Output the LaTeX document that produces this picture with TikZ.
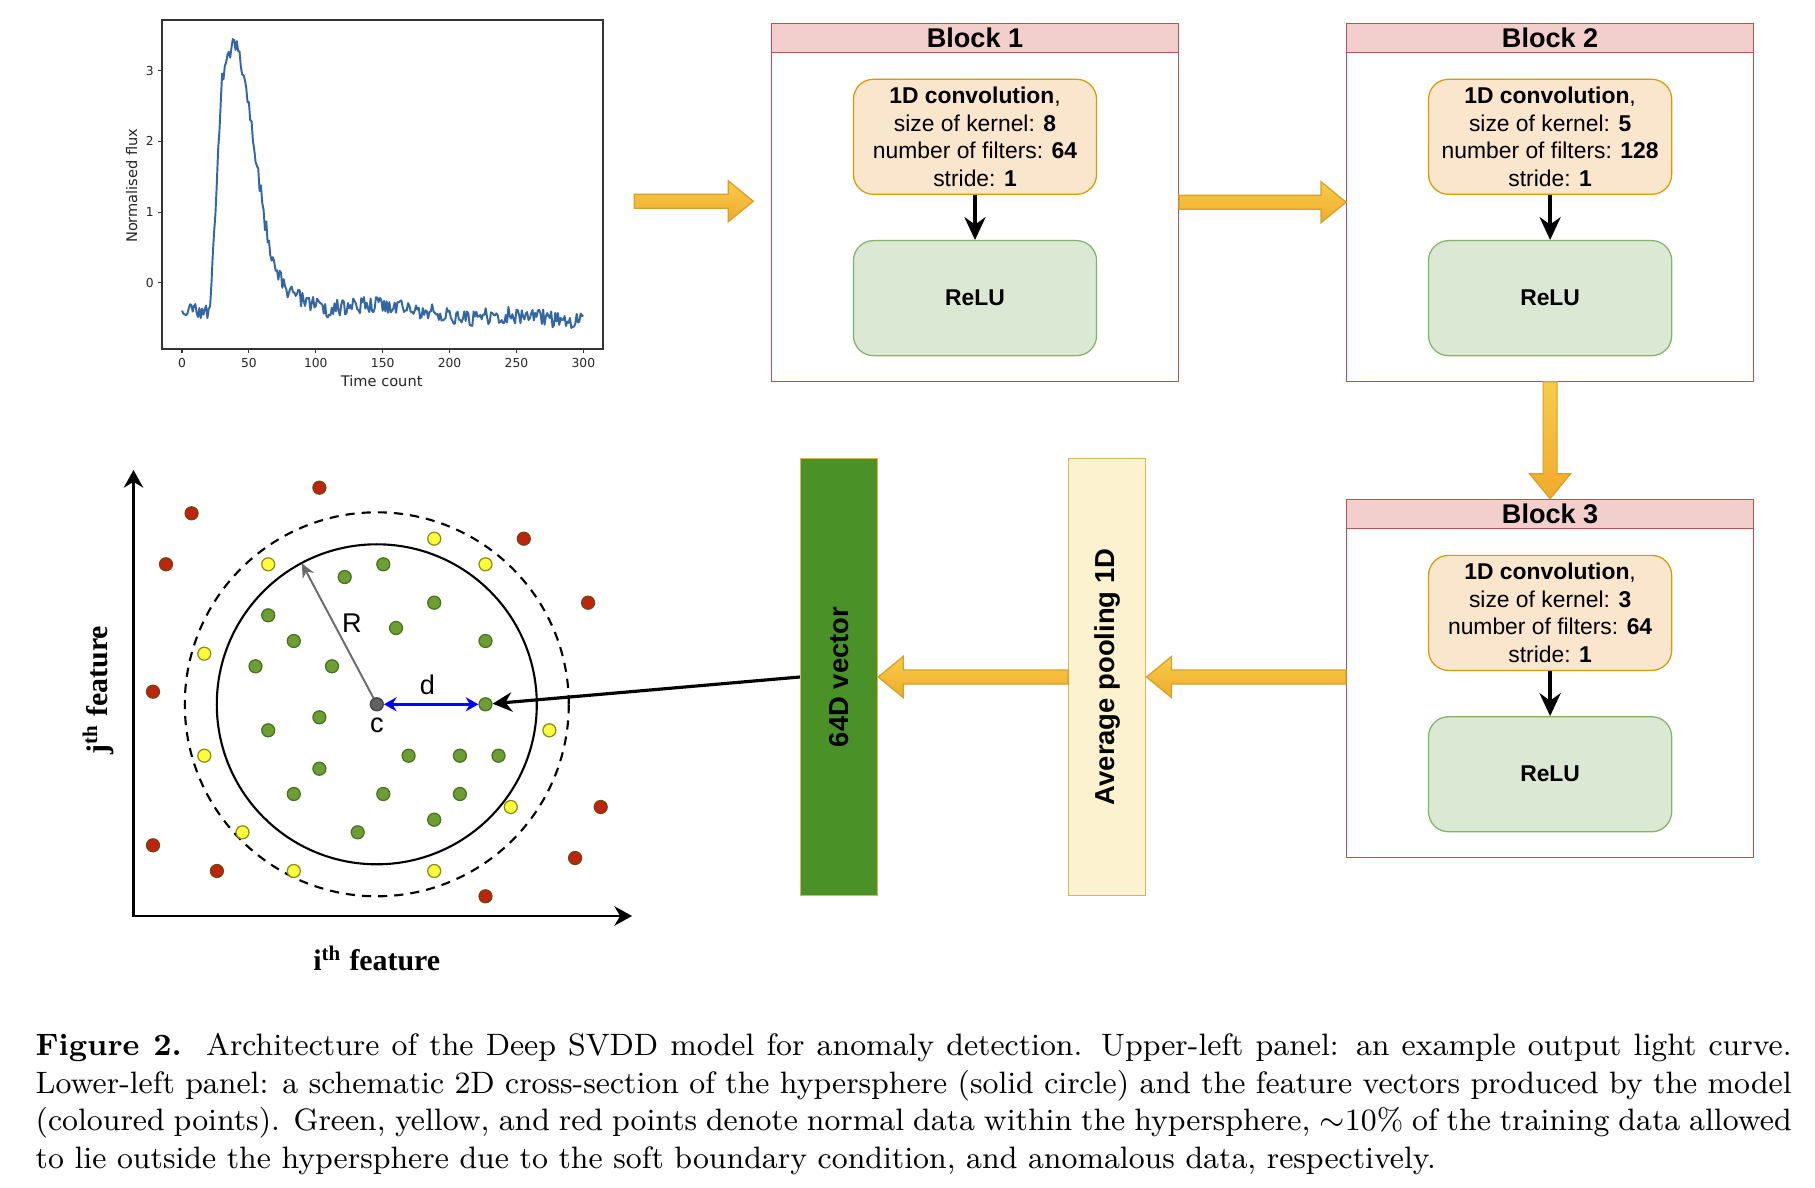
\documentclass[tikz,border=0pt]{standalone}
\usepackage{fontspec}
\usepackage{graphicx}
\newfontfamily\arialf{Liberation Sans}
\newfontfamily\dejavuf{DejaVu Sans}
\newfontfamily\timesf{Liberation Serif}
\usetikzlibrary{positioning,calc,arrows.meta}

\definecolor{headfill}{RGB}{242,206,204}
\definecolor{blkline}{RGB}{184,84,80}
\definecolor{convfill}{RGB}{250,229,205}
\definecolor{convline}{RGB}{215,155,0}
\definecolor{relufill}{RGB}{218,232,212}
\definecolor{reluline}{RGB}{130,179,102}
\definecolor{vecfill}{RGB}{74,146,40}
\definecolor{vecline}{RGB}{214,182,86}
\definecolor{avgfill}{RGB}{253,242,207}
\definecolor{arrowtop}{RGB}{248,204,72}
\definecolor{arrowbot}{RGB}{240,170,46}
\definecolor{arrowline}{RGB}{214,160,40}
\definecolor{lcblue}{RGB}{52,101,164}
\definecolor{gfill}{RGB}{108,158,52}
\definecolor{gline}{RGB}{72,112,30}
\definecolor{yfill}{RGB}{252,252,60}
\definecolor{yline}{RGB}{140,140,20}
\definecolor{rfill}{RGB}{190,36,14}
\definecolor{rline}{RGB}{110,70,20}

\tikzset{blk/.style = {draw=blkline, line width=0.35pt, minimum width=4.066cm, minimum height=3.577cm, inner sep=0}}
\tikzset{blkhead/.style = {draw=blkline, fill=headfill, line width=0.35pt, minimum width=4.066cm, minimum height=0.294cm, inner sep=0, font=\arialf\bfseries\fontsize{7.7}{8}\selectfont}}
\tikzset{conv/.style = {draw=convline, fill=convfill, line width=0.35pt, rounded corners=0.2cm, minimum width=2.43cm, minimum height=1.15cm, inner sep=0, align=center, font=\arialf\fontsize{6.5}{7.8}\selectfont}}
\tikzset{relu/.style = {draw=reluline, fill=relufill, line width=0.35pt, rounded corners=0.2cm, minimum width=2.43cm, minimum height=1.15cm, inner sep=0, font=\arialf\bfseries\fontsize{6.5}{7.8}\selectfont}}
\tikzset{flow/.style = {line width=1pt, -{Stealth[length=6.5pt,width=6pt]}}}
\tikzset{fatbody/.style = {draw=arrowline, line width=0.35pt, top color=arrowtop, bottom color=arrowbot}}
\tikzset{tallbox/.style = {draw=vecline, line width=0.35pt, minimum width=0.77cm, minimum height=4.374cm, inner sep=0, font=\arialf\bfseries\fontsize{7.8}{8}\selectfont}}
\tikzset{gdot/.style = {draw=gline, fill=gfill, line width=0.35pt}}
\tikzset{ydot/.style = {draw=yline, fill=yfill, line width=0.35pt}}
\tikzset{rdot/.style = {draw=rline, fill=rfill, line width=0.35pt}}
\tikzset{ptlbl/.style = {inner sep=0, font=\arialf\fontsize{7.7}{8}\selectfont}}
\tikzset{axlbl/.style = {inner sep=0, font=\timesf\bfseries\fontsize{8.5}{9}\selectfont}}
\tikzset{ticklbl/.style = {inner sep=0, font=\dejavuf\fontsize{3.5}{4}\selectfont, text=black!85}}
\tikzset{plotlbl/.style = {inner sep=0, font=\dejavuf\fontsize{4.15}{5}\selectfont, text=black!85}}

% block arrow between two points
\newcommand{\fatarrow}[2]{%
  \coordinate (fh) at ($(#2)!0.25cm!(#1)$);
  \draw[fatbody] ($(#1)!0.07cm!90:(#2)$) -- ($(fh)!0.07cm!90:(#2)$) -- ($(fh)!0.205cm!90:(#2)$)
    -- (#2) -- ($(fh)!0.205cm!-90:(#2)$) -- ($(fh)!0.07cm!-90:(#2)$) -- ($(#1)!0.07cm!-90:(#2)$) -- cycle;}

\begin{document}
\begin{tikzpicture}[x=0.01cm, y=-0.01cm,
    declare function={ramp(\t,\a)=max(\t-\a,0);
      lc(\t)=-0.4+0.3667*ramp(\t,21)-0.3056*ramp(\t,30)-0.1274*ramp(\t,39)-0.0710*ramp(\t,47)
        +0.0485*ramp(\t,62)+0.0618*ramp(\t,70)+0.0166*ramp(\t,80)+0.0124*ramp(\t,105)
        -0.00486*ramp(\t,145)+0.00453*ramp(\t,215)-0.00349*ramp(\t,245);}]
  \path[fill=white, use as bounding box] (0,0) rectangle (1815,1188);

  % light curve
  \draw[black!80, line width=0.3pt] (162,20) rectangle (603,349);
  \foreach \t in {0,50,...,300} {
    \draw[black!80, line width=0.3pt] ({182+1.3378*\t},349) -- ++(0,4);
    \node[ticklbl] (xt\t) at ({182+1.3378*\t},362.7) {\t};
  }
  \foreach \f in {0,1,2,3} {
    \draw[black!80, line width=0.3pt] (162,{282.7-70.67*\f}) -- ++(-4,0);
    \node[ticklbl, anchor=east] (yt\f) at (154.5,{282.7-70.67*\f}) {\f};
  }
  \pgfmathsetseed{11}
  \draw[lcblue, line width=0.55pt, line join=round] plot[domain=0:300, samples=301, variable=\t]
    ({182+1.3378*\t},{282.7-70.67*(lc(\t)+0.12*rand)});
  \node[plotlbl] (tlab) at (381.7,381) {Time count};
  \node[plotlbl, rotate=90] (flab) at (131.7,185.7) {Normalised flux};

  % blocks
  \node[blk] (blk1) at (975,202.2) {};
  \node[blkhead, anchor=north] (head1) at (blk1.north) {Block 1};
  \node[conv, below=0.56cm of blk1.north] (conv1) {\textbf{1D convolution},\\size of kernel: \textbf{8}\\number of filters: \textbf{64}\\stride: \textbf{1}};
  \node[relu, below=0.45cm of conv1] (relu1) {ReLU};
  \draw[flow] (conv1) -- (relu1);

  \node[blk] (blk2) at (1550.1,202.2) {};
  \node[blkhead, anchor=north] (head2) at (blk2.north) {Block 2};
  \node[conv, below=0.56cm of blk2.north] (conv2) {\textbf{1D convolution},\\size of kernel: \textbf{5}\\number of filters: \textbf{128}\\stride: \textbf{1}};
  \node[relu, below=0.45cm of conv2] (relu2) {ReLU};
  \draw[flow] (conv2) -- (relu2);

  \node[blk] (blk3) at (1550.1,678.3) {};
  \node[blkhead, anchor=north] (head3) at (blk3.north) {Block 3};
  \node[conv, below=0.56cm of blk3.north] (conv3) {\textbf{1D convolution},\\size of kernel: \textbf{3}\\number of filters: \textbf{64}\\stride: \textbf{1}};
  \node[relu, below=0.45cm of conv3] (relu3) {ReLU};
  \draw[flow] (conv3) -- (relu3);

  \node[tallbox, fill=avgfill] (avg) at (1107.3,677) {\rotatebox{90}{Average pooling 1D}};
  \node[tallbox, fill=vecfill] (vec) at (839,677) {\rotatebox{90}{64D vector}};

  \coordinate (lcout) at (634.3,201.3);
  \coordinate (b1in) at (753.3,201.3);
  \coordinate (b3out) at (blk3.west |- avg.east);
  \fatarrow{lcout}{b1in}
  \fatarrow{blk1.east}{blk2.west}
  \fatarrow{blk2.south}{blk3.north}
  \fatarrow{b3out}{avg.east}
  \fatarrow{avg.west}{vec.east}

  % feature space
  \coordinate (org) at (133.5,916);
  \draw[line width=0.8pt, {Stealth[length=5pt,width=5.5pt]}-{Stealth[length=5pt,width=5.5pt]}] (133.5,470) |- (632,916);
  \draw[line width=0.6pt, dash pattern=on 2.6pt off 2pt] (376.8,704.3) circle [radius=192];
  \draw[line width=0.6pt] (376.8,704.3) circle [radius=160];
  \foreach \p in {(319.4,487.7),(191.6,513.3),(166,564.3),(523.8,538.7),(588.1,602.7),(153,691.7),
                  (600.7,807),(153,845.3),(216.9,871),(575.1,858),(485.5,896.3)}
    \path[rdot] \p circle [radius=6.5];
  \foreach \p in {(434.2,538.7),(268.2,564.3),(485.5,564.3),(204.3,653.7),(549.4,730.3),
                  (204.3,755.7),(510.8,807),(242.5,832.3),(293.8,871),(434.2,871)}
    \path[ydot] \p circle [radius=6.5];
  \foreach \p in {(383.3,564.3),(344.7,577),(434.2,602.7),(268.2,615.3),(396,628),(293.8,641),
                  (485.5,641),(255.5,666.3),(332,666.3),(319.4,717.3),(268.2,730.3),(408.6,755.7),
                  (459.9,755.7),(498.5,755.7),(319.4,768.7),(293.8,794),(383.3,794),(459.9,794),
                  (434.2,819.7),(357.7,832.3)}
    \path[gdot] \p circle [radius=6.5];
  \node[gdot, circle, inner sep=0, minimum size=0.13cm] (tgt) at (485.5,704.3) {};
  \coordinate (rtip) at (301.8,563.3);
  \draw[black!58, line width=0.55pt, -{Stealth[length=4pt,width=3.6pt]}] (376.8,704.3) -- (rtip);
  \node[circle, draw=black!75, fill=black!62, line width=0.35pt, inner sep=0, minimum size=0.13cm] (ctr) at (376.8,704.3) {};
  \draw[blue, line width=0.7pt, {Stealth[length=3.6pt,width=4pt]}-{Stealth[length=3.6pt,width=4pt]}] (ctr) -- (tgt);
  \draw[line width=0.9pt, -{Stealth[length=5.5pt,width=5.5pt]}] (vec.west) -- (tgt);
  \node[ptlbl] (rlab) at (352,623) {R};
  \node[ptlbl] (dlab) at (427.3,685) {d};
  \node[ptlbl] (clab) at (376.8,725) {c};
  \node[axlbl, rotate=90] (jlab) at (98,690) {j\textsuperscript{th} feature};
  \node[axlbl] (ilab) at (376.8,958) {i\textsuperscript{th} feature};

  % caption
  \node[anchor=north west, inner sep=0, text width=17.55cm, align=justify,
        font=\fontsize{8.8}{10.75}\selectfont] (cap) at (35,1032.5)
    {\textbf{Figure 2.}\ \ Architecture of the Deep SVDD model for anomaly detection. Upper-left panel: an example output light curve.\linebreak
     Lower-left panel: a schematic 2D cross-section of the hypersphere (solid circle) and the feature vectors produced by the model\linebreak
     (coloured points). Green, yellow, and red points denote normal data within the hypersphere, $\sim$10\% of the training data allowed\linebreak
     to lie outside the hypersphere due to the soft boundary condition, and anomalous data, respectively.};
\end{tikzpicture}
\end{document}
